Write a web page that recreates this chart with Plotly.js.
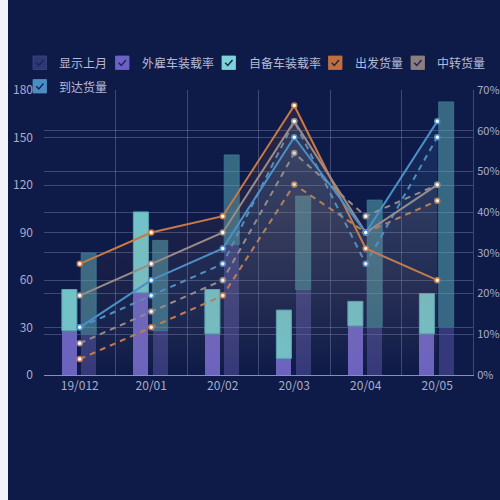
<!DOCTYPE html>
<html><head><meta charset="utf-8">
<script src="https://cdn.plot.ly/plotly-3.0.1.min.js"></script>
<style>
html,body{margin:0;padding:0;background:#f3f4f8;width:500px;height:500px;overflow:hidden}
#chart{position:absolute;left:8px;top:0;width:492px;height:500px;background:#0e1a48}
</style></head><body>
<div id="chart"></div>
<script>
// ---- data ----
const categories = ['19/012','20/01','20/02','20/03','20/04','20/05'];
// current month bars
const waiGu   = [28, 52, 26, 10.5, 31, 26];       // 外雇车装载率 (bottom)
const ziBei   = [26, 51, 28, 30.5, 15.5, 25.5];   // 自备车装载率 (stacked on top)
// previous month bars (显示上月)
const prevWaiGu = [26, 28, 82.5, 54, 30.5, 30.5];
const prevZiBei = [51, 57, 56.5, 59, 80, 142];
// lines (%)
const chuFa    = [27.3, 35.0, 39.0, 66.2, 31.1, 23.3];  // 出发货量
const zhongZhuan = [19.5, 27.3, 35.0, 62.3, 35.0, 46.7]; // 中转货量
const daoDa    = [11.7, 23.3, 31.1, 58.4, 35.0, 62.3];  // 到达货量
const prevChuFa = [3.9, 11.7, 19.5, 46.8, 35.0, 42.8];
const prevZhongZhuan = [7.8, 15.6, 23.3, 54.5, 39.0, 46.7];
const prevDaoDa = [11.7, 19.5, 27.3, 62.3, 27.3, 58.4];
const leftTicks = [0,30,60,90,120,150,180];
const rightTicks = [0,10,20,30,40,50,60,70];

const legendNames = ['显示上月','外雇车装载率','自备车装载率','出发货量','中转货量','到达货量'];
const legendColors = ['#2f3775','#6b62c4','#7fd3d8','#c0703a','#8a7f7e','#4a8fc4'];

const BW = 0.21, OFF_CUR = -0.25, OFF_PREV = 0.02;
const cOrange = '#c87a45', cGray = '#9a8b88', cBlue = '#4a90c8';

function rgba(hex,a){const n=parseInt(hex.slice(1),16);return `rgba(${n>>16},${(n>>8)&255},${n&255},${a})`;}

const traces = [
  {type:'bar', x:categories, y:prevWaiGu, base:0, width:BW, offset:OFF_PREV, yaxis:'y',
   marker:{color:'rgba(108,99,191,0.42)', line:{width:0}}, hoverinfo:'skip'},
  {type:'bar', x:categories, y:prevZiBei, base:prevWaiGu, width:BW, offset:OFF_PREV, yaxis:'y',
   marker:{color:'rgba(90,170,180,0.55)', line:{width:1,color:'rgba(60,120,150,0.8)'}}, hoverinfo:'skip'},
  {type:'bar', x:categories, y:waiGu, base:0, width:BW, offset:OFF_CUR, yaxis:'y',
   marker:{color:'#6c63bf', line:{width:0}}, hoverinfo:'skip'},
  {type:'bar', x:categories, y:ziBei, base:waiGu, width:BW, offset:OFF_CUR, yaxis:'y',
   marker:{color:'#72c2c8', line:{width:1,color:'#58a8b2'}}, hoverinfo:'skip'}
];

function line(y, color, dash){
  return {type:'scatter', mode:'lines+markers', x:categories, y:y, yaxis:'y2',
    line:{color:color, width:2, dash:dash?'6px,5px':'solid'},
    marker:{symbol:'circle', size:5, color:'#ffffff', line:{color:color, width:1.5}},
    fill:'tozeroy', fillgradient:{type:'vertical', colorscale:[[0,rgba(color,0.0)],[1,rgba(color,dash?0.07:0.12)]]},
    hoverinfo:'skip', cliponaxis:false};
}
traces.push(line(prevChuFa, cOrange, true));
traces.push(line(prevZhongZhuan, cGray, true));
traces.push(line(prevDaoDa, cBlue, true));
traces.push(line(chuFa, cOrange, false));
traces.push(line(zhongZhuan, cGray, false));
traces.push(line(daoDa, cBlue, false));

// legend (checkbox style) built from shapes + annotations
const PL=44, PR=473, PT=90, PB=375;
const px = v => (v-PL)/(PR-PL);
const py = v => (PB-v)/(PB-PT);
const legendPos = [[33,56],[115.5,56],[222,56],[328.5,56],[411,56],[33,79.5]];
const textX = [57,139.5,246.5,352.5,435,57];
const shapes=[], annotations=[];
legendNames.forEach((name,i)=>{
  const [x0,y0]=legendPos[i], s=13.5;
  shapes.push({type:'rect', xref:'paper', yref:'paper', x0:px(x0), x1:px(x0+s), y0:py(y0), y1:py(y0+s),
    fillcolor:legendColors[i], line:{width:0.8,color:i===0?'#3c4688':legendColors[i]}, layer:'above'});
  const p=[[x0+3.2,y0+6.8],[x0+5.8,y0+9.5],[x0+10.5,y0+4]];
  shapes.push({type:'path', xref:'paper', yref:'paper',
    path:`M${px(p[0][0])},${py(p[0][1])} L${px(p[1][0])},${py(p[1][1])} L${px(p[2][0])},${py(p[2][1])}`,
    line:{color:'#1c2458', width:1.5}, layer:'above'});
  annotations.push({xref:'paper', yref:'paper', x:px(textX[i]), y:py(y0+s/2), xanchor:'left', yanchor:'middle',
    text:name, showarrow:false, font:{size:12, color:'#b6bbd6', family:'Noto Sans CJK SC'}});
});

const gridC = 'rgba(150,160,200,0.35)';
const layout = {
  width:492, height:500,
  margin:{l:36, r:27, t:90, b:125, pad:0},
  paper_bgcolor:'#0e1a48', plot_bgcolor:'rgba(0,0,0,0)',
  font:{family:'Noto Sans CJK SC, Noto Sans, sans-serif', size:12, color:'#a9aec8'},
  showlegend:false, barmode:'overlay', bargap:0,
  xaxis:{type:'category', tickson:'boundaries', showgrid:true, gridcolor:gridC, gridwidth:1,
    showline:true, linecolor:'#8a90b0', linewidth:1, ticks:'', ticklen:0, tickfont:{size:12,color:'#a9aec8'},
    fixedrange:true, zeroline:false},
  yaxis:{range:[0,180], tickvals:leftTicks, showgrid:true, gridcolor:gridC, gridwidth:1, zeroline:false,
    showline:false, ticks:'', tickfont:{size:12,color:'#a9aec8'}, ticklabelstandoff:10, fixedrange:true},
  yaxis2:{range:[0,70], tickvals:rightTicks, ticktext:rightTicks.map(v=>v+'%'), overlaying:'y', side:'right',
    showgrid:true, gridcolor:gridC, gridwidth:1, zeroline:false, showline:true, linecolor:gridC,
    ticks:'', tickfont:{size:11,color:'#a9aec8'}, ticklabelstandoff:1, fixedrange:true},
  shapes:shapes, annotations:annotations
};
Plotly.newPlot('chart', traces, layout, {staticPlot:true, displayModeBar:false});
</script></body></html>
